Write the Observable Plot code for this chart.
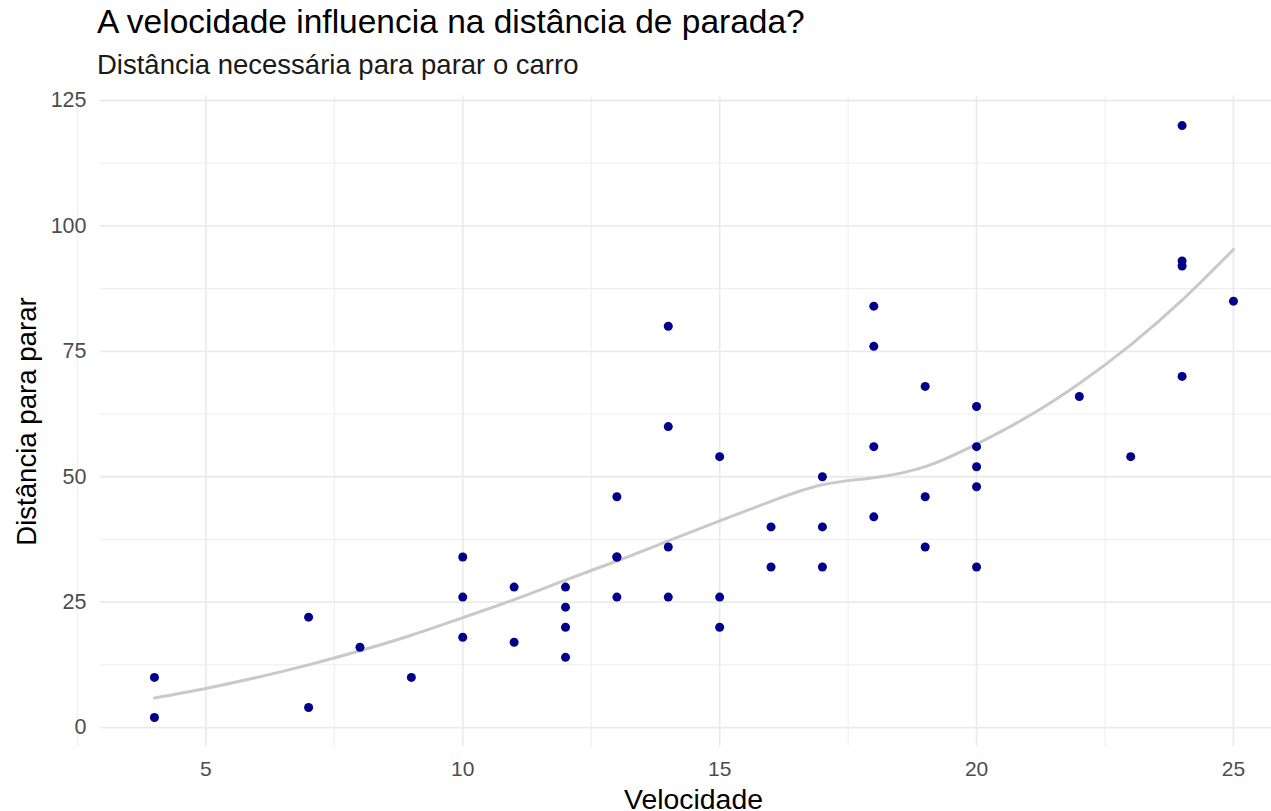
<!DOCTYPE html>
<html><head><meta charset="utf-8">
<script src="https://cdn.jsdelivr.net/npm/d3@7"></script>
<script src="https://cdn.jsdelivr.net/npm/@observablehq/plot@0.6"></script>
<style>
body{margin:0;background:#fff;font-family:"Liberation Sans",Arial,sans-serif;}
#wrap{position:relative;width:1271px;height:811px;overflow:hidden;}
#title{position:absolute;left:97px;top:4.6px;font-size:33.5px;line-height:33.5px;color:#000;white-space:nowrap;}
#subtitle{position:absolute;left:97px;top:51px;font-size:27.5px;line-height:27.5px;color:#1a1a1a;white-space:nowrap;}
#chart{position:absolute;left:0;top:85px;}
</style></head><body>
<div id="wrap">
<div id="title">A velocidade influencia na distância de parada?</div>
<div id="subtitle">Distância necessária para parar o carro</div>
<div id="chart"></div>
</div>
<script>
const speed = [4,4,7,7,8,9,10,10,10,11,11,12,12,12,12,13,13,13,13,14,14,14,14,15,15,15,16,16,17,17,17,18,18,18,18,19,19,19,20,20,20,20,20,22,23,24,24,24,24,25];
const dist  = [2,10,4,22,16,10,18,26,34,17,28,14,20,24,28,26,34,34,46,26,36,60,80,20,26,54,32,40,32,40,50,42,56,76,84,36,46,68,32,48,52,56,64,66,54,70,92,93,120,85];
const smoothSpeed = [4,5,6,7,8,9,10,11,12,13,14,15,16,17,18,19,20,21,22,23,24,25];
const smoothDist  = [5.9,7.8,10.0,12.5,15.3,18.4,21.9,25.5,29.4,33.2,37.2,41.2,45.1,48.4,49.8,52.0,56.5,62.0,68.6,76.3,85.2,95.3];
const xTicks = [5,10,15,20,25];
const xMinor = [2.5,7.5,12.5,17.5,22.5];
const yTicks = [0,25,50,75,100,125];
const yMinor = [12.5,37.5,62.5,87.5,112.5];

const points = speed.map((s,i)=>({speed:s, dist:dist[i]}));
const smooth = smoothSpeed.map((s,i)=>({speed:s, dist:smoothDist[i]}));

const chart = Plot.plot({
  width:1271, height:726,
  marginLeft:100, marginRight:0, marginTop:10.5, marginBottom:64.4,
  style:{fontFamily:"Liberation Sans, Arial, sans-serif", background:"#fff"},
  x:{domain:[2.95,25.74], label:null},
  y:{domain:[-3.9,125.9], label:null},
  marks:[
    Plot.ruleX(xMinor,{stroke:"#ebebeb",strokeWidth:0.9}),
    Plot.ruleY(yMinor,{stroke:"#ebebeb",strokeWidth:0.9}),
    Plot.ruleX(xTicks,{stroke:"#ebebeb",strokeWidth:1.8}),
    Plot.ruleY(yTicks,{stroke:"#ebebeb",strokeWidth:1.8}),
    Plot.line(smooth,{x:"speed",y:"dist",stroke:"#c9c9c9",strokeWidth:3,curve:"natural"}),
    Plot.dot(points,{x:"speed",y:"dist",r:4.5,fill:"#00008B",stroke:"none"}),
    Plot.axisX(xTicks,{tickSize:0,tickPadding:13.5,fontSize:21,fill:"#4d4d4d",label:null}),
    Plot.axisY(yTicks,{tickSize:0,tickPadding:14,fontSize:21.5,fill:"#4d4d4d",label:null}),
    Plot.text(["Velocidade"],{frameAnchor:"bottom",dx:7.5,dy:61.4,fontSize:28.4,fill:"#000",lineAnchor:"bottom"}),
    Plot.text(["Distância para parar"],{frameAnchor:"left",dx:-73,rotate:-90,textAnchor:"middle",fontSize:27.6,fill:"#000"})
  ]
});
document.getElementById("chart").appendChild(chart);
</script>
</body></html>
